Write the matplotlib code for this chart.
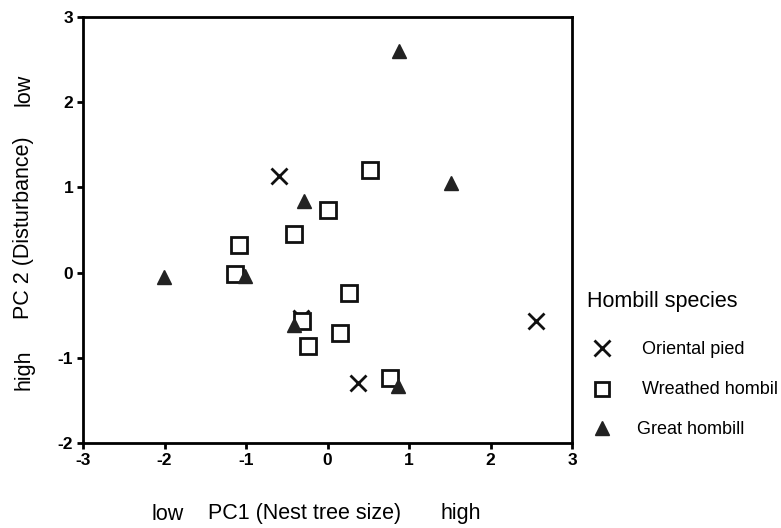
import matplotlib
matplotlib.use("Agg")
import matplotlib.pyplot as plt
from matplotlib.lines import Line2D

plt.rcParams['font.family'] = ['Liberation Sans', 'DejaVu Sans']
plt.rcParams['axes.unicode_minus'] = False

# PC scores
pied_x = [-0.60, 2.56, -0.33, 0.37]
pied_y = [1.13, -0.57, -0.53, -1.29]

wreathed_x = [0.52, 0.01, -0.41, -1.08, -1.14, 0.26, -0.31, 0.15, -0.24, 0.77]
wreathed_y = [1.20, 0.73, 0.45, 0.32, -0.02, -0.24, -0.57, -0.71, -0.86, -1.24]

great_x = [0.88, 1.51, -0.29, -2.01, -1.01, -0.41, 0.87]
great_y = [2.60, 1.05, 0.84, -0.05, -0.04, -0.62, -1.33]

species = ["Oriental pied", "Wreathed hombil", "Great hombill"]
x_ticks = [-3, -2, -1, 0, 1, 2, 3]
y_ticks = [-2, -1, 0, 1, 2, 3]

W, H = 781, 528
fig = plt.figure(figsize=(W / 100, H / 100), dpi=100)
ax = fig.add_axes([83 / W, 1 - 443 / H, 489 / W, 426 / H])

pied_style = dict(ls='none', marker='x', ms=11, mew=2, color='#111111')
wreathed_style = dict(ls='none', marker='s', ms=11, mew=2, mfc='white', mec='#111111')
great_style = dict(ls='none', marker='^', ms=10, mew=1, color='#222222')

ax.plot(pied_x, pied_y, **pied_style)
ax.plot(wreathed_x, wreathed_y, **wreathed_style)
ax.plot(great_x, great_y, **great_style)

ax.set_xlim(-3, 3)
ax.set_ylim(-2, 3)
ax.set_xticks(x_ticks)
ax.set_yticks(y_ticks)
for s in ax.spines.values():
    s.set_linewidth(2)
ax.tick_params(direction='out', length=4, width=2, labelsize=12.5, pad=3)
for lab in ax.get_xticklabels() + ax.get_yticklabels():
    lab.set_fontweight('bold')

# axis labels, placed as separate words like the original
def px(x, y):
    return x / W, 1 - y / H

fs = 15.5
fig.text(*px(168, 514), "low", ha='center', va='center', fontsize=fs)
fig.text(*px(305, 514), "PC1 (Nest tree size)", ha='center', va='center', fontsize=fs)
fig.text(*px(461, 514), "high", ha='center', va='center', fontsize=fs)
fig.text(*px(24, 90), "low", ha='center', va='center', rotation=90, fontsize=fs)
fig.text(*px(24, 228), "PC 2 (Disturbance)", ha='center', va='center', rotation=90, fontsize=fs)
fig.text(*px(24, 370), "high", ha='center', va='center', rotation=90, fontsize=fs)

# legend drawn by hand to match the spacing of the original
fig.text(*px(587, 302), "Hombill species", ha='left', va='center', fontsize=15.5)
leg_rows = [(348, pied_style, 642), (389, wreathed_style, 642), (428, great_style, 637)]
for (yy, style, tx), name in zip(leg_rows, species):
    st = dict(style)
    if st['marker'] == 's':
        st['ms'] = 10
    fig.add_artist(Line2D([602 / W], [1 - yy / H], transform=fig.transFigure, **st))
    fig.text(*px(tx, yy + 1), name, ha='left', va='center', fontsize=13)

fig.savefig("out.png", dpi=100)
